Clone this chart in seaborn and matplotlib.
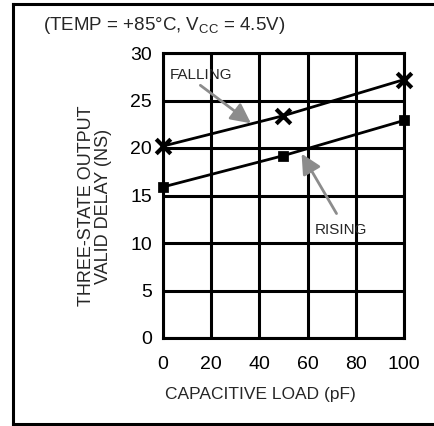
#!/usr/bin/env python3
"""Three-state output valid delay vs capacitive load."""

import matplotlib

matplotlib.use("Agg")

import matplotlib.pyplot as plt
import pandas as pd
import seaborn as sns
from matplotlib.lines import Line2D

LOAD_PF = [0, 50, 100]
FALLING_NS = [20.2, 23.4, 27.2]
RISING_NS = [15.9, 19.2, 22.9]
X_TICKS = [0, 20, 40, 60, 80, 100]
Y_TICKS = [0, 5, 10, 15, 20, 25, 30]

FONT = ["Liberation Sans", "DejaVu Sans"]


def main() -> None:
    sns.set_theme(style="white")
    plt.rcParams["font.family"] = FONT

    data = pd.DataFrame(
        {
            "load": LOAD_PF * 2,
            "delay": FALLING_NS + RISING_NS,
            "edge": ["FALLING"] * len(LOAD_PF) + ["RISING"] * len(LOAD_PF),
        }
    )

    fig = plt.figure(figsize=(4.35, 4.26), dpi=100)
    W, H = 435, 426
    ax = fig.add_axes([163 / W, (H - 338) / H, (404 - 163) / W, (338 - 53) / H])

    # outer frame of the datasheet figure (open on the right)
    left, bottom, top = 13 / W, 2 / H, 1 - 4 / H
    for xs, ys in [((left, 1.05), (top, top)), ((left, left), (bottom, top)),
                   ((left, 1.05), (bottom, bottom))]:
        fig.add_artist(Line2D(xs, ys, transform=fig.transFigure, color="black",
                              linewidth=2.2, solid_capstyle="projecting"))

    sns.lineplot(data=data, x="load", y="delay", hue="edge",
                 palette={"FALLING": "black", "RISING": "black"},
                 linewidth=2.0, legend=False, ax=ax)
    fall = data[data["edge"] == "FALLING"]
    rise = data[data["edge"] == "RISING"]
    sns.scatterplot(data=fall, x="load", y="delay", marker="x", s=110,
                    color="black", linewidth=3.0, clip_on=False, zorder=5, ax=ax)
    sns.scatterplot(data=rise, x="load", y="delay", marker="s", s=45,
                    color="black", edgecolor="black", clip_on=False, zorder=5, ax=ax)

    ax.set_xlim(0, 100)
    ax.set_ylim(0, 30)
    ax.set_xticks(X_TICKS)
    ax.set_yticks(Y_TICKS)
    ax.grid(True, color="black", linewidth=2.2)
    for spine in ax.spines.values():
        spine.set_color("black")
        spine.set_linewidth(2.2)
    ax.tick_params(length=0, labelsize=14, colors="black")
    ax.tick_params(axis="x", pad=13)
    ax.tick_params(axis="y", pad=8)
    ax.set_xlabel("")
    ax.set_ylabel("")

    arrow = dict(arrowstyle="-|>", color="#8c8c8c", lw=2.0, mutation_scale=30,
                 shrinkA=0, shrinkB=0)
    ax.text(2.8, 27.7, "FALLING", fontsize=11, va="center", ha="left")
    ax.annotate("", xy=(36.5, 22.6), xytext=(15.5, 26.6), arrowprops=arrow)
    ax.text(63, 11.4, "RISING", fontsize=11, va="center", ha="left")
    ax.annotate("", xy=(57.5, 19.4), xytext=(72, 13.1), arrowprops=arrow)

    fig.text(43 / W, 1 - 25 / H, r"(TEMP = +85°C, V$_{\mathregular{CC}}$ = 4.5V)",
             fontsize=13.5, ha="left", va="center")
    fig.text(260 / W, 1 - 395 / H, "CAPACITIVE LOAD (pF)", fontsize=12.5,
             ha="center", va="center")
    fig.text(95 / W, 1 - 206 / H, "THREE-STATE OUTPUT\nVALID DELAY (NS)",
             fontsize=13, ha="center", va="center", rotation=90, linespacing=1.0)

    fig.savefig("out.png", dpi=100)
    plt.close(fig)


if __name__ == "__main__":
    main()
